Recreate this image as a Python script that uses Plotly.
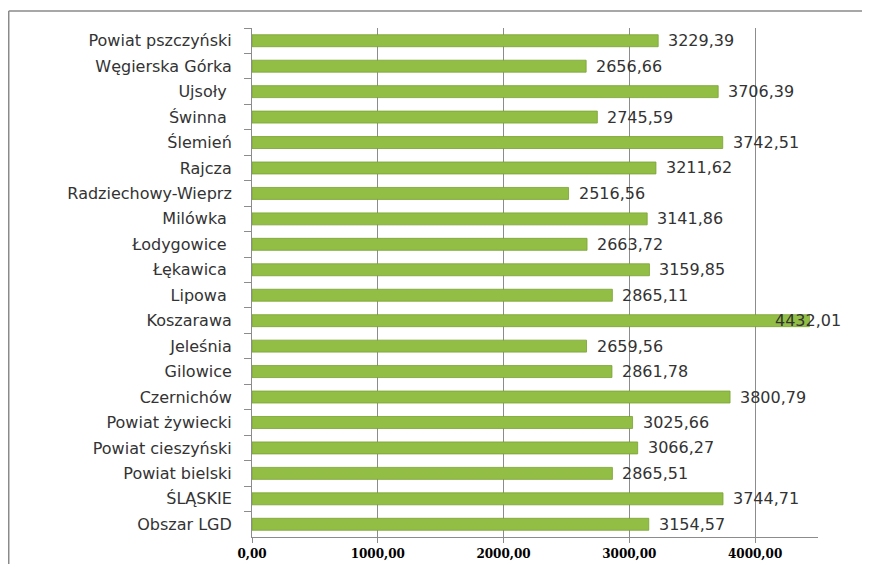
import plotly.graph_objects as go

categories = [
    "Powiat pszczyński", "Węgierska Górka", "Ujsoły ", "Świnna ", "Ślemień",
    "Rajcza", "Radziechowy-Wieprz", "Milówka ", "Łodygowice ", "Łękawica ",
    "Lipowa ", "Koszarawa", "Jeleśnia", "Gilowice", "Czernichów",
    "Powiat żywiecki", "Powiat cieszyński", "Powiat bielski", "ŚLĄSKIE", "Obszar LGD",
]
values = [
    3229.39, 2656.66, 3706.39, 2745.59, 3742.51,
    3211.62, 2516.56, 3141.86, 2663.72, 3159.85,
    2865.11, 4432.01, 2659.56, 2861.78, 3800.79,
    3025.66, 3066.27, 2865.51, 3744.71, 3154.57,
]
x_ticks = [0, 1000, 2000, 3000, 4000]
x_max = 4500

fig = go.Figure()
fig.add_trace(go.Bar(
    y=categories, x=values, orientation="h",
    marker=dict(color="#92BE45", line=dict(color="#79a232", width=0.8)),
    hoverinfo="x+y",
))

vmax = max(values)
for c, v in zip(categories, values):
    fig.add_annotation(
        x=v, y=c, xref="x", yref="y",
        text=f"{v:.2f}".replace(".", ","),
        showarrow=False, xanchor="left",
        xshift=(-36 if v == vmax else 8),
        font=dict(family="DejaVu Sans", size=16, color="#333333"),
    )

# outer frame (top and left edges)
fig.add_shape(type="line", xref="paper", yref="paper",
              x0=-0.4298, x1=1.2, y0=1.0334, y1=1.0334,
              line=dict(color="#8a8a8a", width=1.5))
fig.add_shape(type="line", xref="paper", yref="paper",
              x0=-0.4298, x1=-0.4298, y0=1.0334, y1=-0.06,
              line=dict(color="#8a8a8a", width=1.5))

fig.update_layout(
    width=862, height=556,
    margin=dict(l=244, r=52, t=20, b=27),
    paper_bgcolor="white", plot_bgcolor="white",
    separators=",.",
    bargap=0.53,
    showlegend=False,
)
fig.update_xaxes(
    range=[0, x_max], tickvals=x_ticks, tickformat=".2f",
    showgrid=True, gridcolor="#8c8c8c", gridwidth=1,
    showline=True, linecolor="#8c8c8c", linewidth=1,
    ticks="outside", ticklen=5, tickcolor="#8c8c8c",
    ticklabelstandoff=1, automargin=False,
    zeroline=False,
    tickfont=dict(family="DejaVu Serif", size=12, color="#000000", weight="bold"),
)
fig.update_yaxes(
    autorange="reversed", type="category",
    showline=True, linecolor="#8c8c8c", linewidth=1,
    ticks="outside", ticklen=7, tickcolor="#8c8c8c", tickson="boundaries",
    ticklabelstandoff=16, automargin=False,
    showgrid=False,
    tickfont=dict(family="DejaVu Sans", size=16, color="#333333"),
)

fig.write_html("out.html")
